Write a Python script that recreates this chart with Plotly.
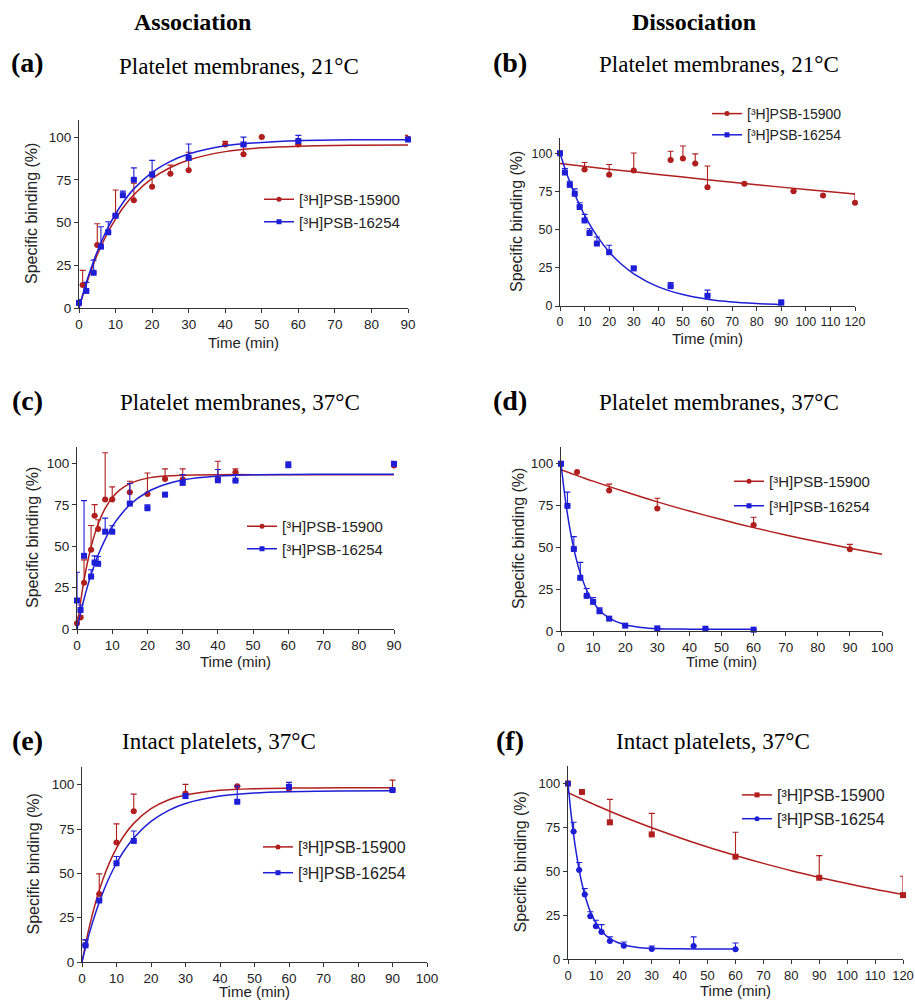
import plotly.graph_objects as go

# ---------------- data ----------------
# (a) Association, platelet membranes, 21 °C
a_red_t = [1, 5, 10, 15, 20, 25, 30, 40, 45, 50, 60, 90]
a_red_y = [13.5, 36.8, 54, 63, 71, 78.6, 80.6, 95.7, 90, 100, 95.7, 99]
a_red_e = [8.5, 12.5, 15, 10, 8.5, 5, 10.5, 1.8, 5, 0, 0, 2]
a_blue_t = [0, 2, 4, 6, 8, 10, 12, 15, 20, 30, 45, 60, 90]
a_blue_y = [3, 10, 20.6, 35.9, 44.3, 54, 66, 75, 78, 87.8, 95.7, 97.7, 98.6]
a_blue_e = [2, 5, 7.4, 11.6, 6.2, 1, 2.4, 7, 8.4, 8.2, 4.3, 3.3, 1]
a_fit_t = [0, 2, 4, 6, 8, 10, 12, 15, 20, 25, 30, 40, 50, 60, 75, 90]
a_fit_red = [0, 13.9, 25.9, 36.0, 44.7, 52.0, 58.5, 66.3, 75.8, 82.2, 86.6, 91.5, 93.7, 94.7, 95.2, 95.4]
a_fit_blue = [0, 14.9, 27.5, 38.2, 47.3, 55.0, 61.6, 69.7, 79.4, 85.8, 90.1, 94.9, 96.9, 97.9, 98.4, 98.5]

# (b) Dissociation, platelet membranes, 21 °C
b_red_t = [0, 10, 20, 30, 45, 50, 55, 60, 75, 95, 107, 120]
b_red_y = [100, 89.3, 86, 88.7, 95.6, 96.5, 93.3, 77.8, 80, 75.2, 72.4, 67.6]
b_red_e = [0, 4.7, 6.6, 11.5, 5.7, 8.3, 6.3, 13.9, 0, 0, 0, 5.9]
b_blue_t = [0, 2, 4, 6, 8, 10, 12, 15, 20, 30, 45, 60, 90]
b_blue_y = [100, 87.4, 79.3, 73.5, 64.8, 56, 47.8, 40.9, 35.2, 24.6, 13, 6.7, 2.2]
b_blue_e = [0, 2.6, 2.4, 3.2, 2.8, 4, 2.8, 4.3, 4.6, 1.4, 2.4, 3.7, 1.7]
b_fit_red_t = [0, 20, 40, 60, 80, 100, 120]
b_fit_red = [93.3, 89.6, 86.1, 82.7, 79.4, 76.3, 73.3]
b_fit_blue_t = [0, 2, 4, 6, 8, 10, 12, 15, 20, 25, 30, 40, 50, 60, 70, 80, 90]
b_fit_blue = [100, 90.1, 81.2, 73.2, 66.0, 59.5, 53.6, 45.9, 35.4, 27.3, 21.1, 12.5, 7.5, 4.4, 2.6, 1.6, 0.9]

# (c) Association, platelet membranes, 37 °C
c_red_t = [0, 1, 2, 4, 5, 6, 8, 10, 15, 20, 25, 30, 40, 45, 90]
c_red_y = [3.4, 6.9, 28, 47.9, 68.5, 60.4, 78.2, 78.2, 82.6, 81.6, 90.7, 90.3, 90.7, 94.7, 98.8]
c_red_e = [3, 1, 13.8, 14.7, 6.7, 5.6, 28.3, 7.7, 6.7, 12.7, 6.1, 6.5, 10.7, 2.1, 2.2]
c_blue_t = [0, 1, 2, 4, 5, 6, 8, 10, 15, 20, 25, 30, 40, 45, 60, 90]
c_blue_y = [17.2, 11.5, 44.2, 31.7, 40.2, 39.4, 58.8, 58.8, 75.8, 73, 81.2, 88.3, 89.9, 89.7, 99, 99.8]
c_blue_e = [17.1, 3, 33.4, 4.1, 4, 4.4, 8.2, 3.6, 12.1, 2, 0, 5, 6.5, 3.6, 2, 1.6]
c_fit_t = [0, 1, 2, 3, 4, 5, 6, 8, 10, 12, 15, 20, 25, 30, 40, 50, 60, 75, 90]
c_fit_red = [0, 16.1, 29.5, 40.5, 49.6, 57.2, 63.4, 72.9, 79.3, 83.8, 87.9, 91.2, 92.5, 93.0, 93.3, 93.3, 93.3, 93.3, 93.3]
c_fit_blue = [0, 9.6, 18.1, 25.9, 32.9, 39.0, 44.7, 54.2, 62.0, 67.9, 75.1, 82.8, 87.3, 90.0, 92.4, 93.2, 93.4, 93.5, 93.6]

# (d) Dissociation, platelet membranes, 37 °C
d_red_t = [0, 5, 15, 30, 60, 90]
d_red_y = [100, 95, 84, 73.2, 63.4, 48.8]
d_red_e = [0, 0, 3.8, 6.2, 4.6, 3]
d_blue_t = [0, 2, 4, 6, 8, 10, 12, 15, 20, 30, 45, 60]
d_blue_y = [100, 74.8, 49, 31.8, 21, 17.4, 11.8, 7.4, 3.2, 1.6, 1.4, 0.8]
d_blue_e = [0, 8.2, 7.4, 9.2, 4.4, 2.6, 2, 1, 0, 0, 0, 0]
d_fit_red_t = [0, 10, 20, 30, 40, 50, 60, 70, 80, 90, 100]
d_fit_red = [96.5, 89.6, 83.2, 77.2, 71.7, 66.6, 61.8, 57.4, 53.3, 49.5, 45.9]
d_fit_blue_t = [0, 1, 2, 3, 4, 5, 6, 8, 10, 12, 15, 20, 25, 30, 40, 50, 60]
d_fit_blue = [100, 83.7, 70.0, 58.6, 49.1, 41.2, 34.6, 24.4, 17.4, 12.4, 7.7, 3.7, 2.1, 1.4, 1.1, 1.0, 1.0]

# (e) Association, intact platelets, 37 °C
e_red_t = [1, 5, 10, 15, 30, 45, 60, 90]
e_red_y = [9.4, 38.3, 67.4, 85, 95.1, 99.2, 97.6, 97]
e_red_e = [3, 11.4, 10.5, 9.7, 5.1, 0, 1, 5.6]
e_blue_t = [1, 5, 10, 15, 30, 45, 60, 90]
e_blue_y = [9.4, 34.7, 55.7, 68.3, 93.6, 90.4, 98.8, 97]
e_blue_e = [3.2, 0, 3.8, 5.6, 0, 8.8, 2.5, 0]
e_fit_t = [0, 2, 4, 6, 8, 10, 12, 15, 20, 25, 30, 40, 50, 60, 75, 90]
e_fit_red = [0, 18.8, 34.0, 46.3, 56.2, 64.2, 70.8, 78.2, 86.5, 91.4, 94.2, 96.9, 97.8, 98.1, 98.3, 98.3]
e_fit_blue = [0, 15.3, 28.0, 38.9, 48.1, 55.7, 62.2, 70.0, 79.3, 85.4, 89.4, 93.6, 95.4, 96.1, 96.5, 96.6]

# (f) Dissociation, intact platelets, 37 °C
f_red_t = [0, 5, 15, 30, 60, 90, 120]
f_red_y = [100, 95.2, 77.9, 71, 58.3, 46.3, 36.4]
f_red_e = [0, 0, 13.1, 12, 13.9, 12.6, 10.8]
f_blue_t = [0, 2, 4, 6, 8, 10, 12, 15, 20, 30, 45, 60]
f_blue_y = [100, 72.6, 50.7, 36.8, 24.4, 18.7, 15.4, 10.3, 7.6, 5.7, 7.4, 5.5]
f_blue_e = [0, 5.3, 4.3, 3.4, 2.5, 3.4, 4.2, 2.3, 2.1, 1.7, 5.2, 3.6]
f_fit_red_t = [0, 10, 20, 30, 40, 50, 60, 70, 80, 90, 100, 110, 120]
f_fit_red = [94.8, 87.6, 80.9, 74.8, 69.1, 63.8, 59.0, 54.5, 50.3, 46.5, 43.0, 39.7, 36.7]
f_fit_blue_t = [0, 1, 2, 3, 4, 5, 6, 8, 10, 12, 15, 20, 25, 30, 40, 50, 60]
f_fit_blue = [100, 84.1, 70.9, 60.0, 50.7, 43.0, 36.6, 27.0, 20.5, 15.9, 11.6, 8.1, 6.6, 6.1, 5.8, 5.7, 5.7]

series_names = ["[³H]PSB-15900", "[³H]PSB-16254"]
y_ticks = [0, 25, 50, 75, 100]

# ---------------- styling ----------------
RED = "#B01E1E"
BLUE = "#1E1ED6"
SANS = "Liberation Sans, Arial, sans-serif"
SERIF = "Liberation Serif, Times New Roman, serif"
W, H = 915, 1000


def px_x(p):
    return p / W


def px_y(p):
    return 1 - p / H


# leg = (legend left px, legend top px, extra row gap, legend font size)
panels = [
    dict(key="a", xr=90, xd=(79, 408), yd=(120, 308), tf=13.5,
         red=(a_red_t, a_red_y, a_red_e), blue=(a_blue_t, a_blue_y, a_blue_e),
         fr=(a_fit_t, a_fit_red), fb=(a_fit_t, a_fit_blue),
         sym=("circle", "square"), leg=(259, 183, 0, 15)),
    dict(key="b", xr=120, xd=(560, 855), yd=(138, 306), tf=12.5,
         red=(b_red_t, b_red_y, b_red_e), blue=(b_blue_t, b_blue_y, b_blue_e),
         fr=(b_fit_red_t, b_fit_red), fb=(b_fit_blue_t, b_fit_blue),
         sym=("circle", "square"), leg=(707, 98, 0, 14)),
    dict(key="c", xr=90, xd=(77, 394), yd=(447, 629), tf=13.5,
         red=(c_red_t, c_red_y, c_red_e), blue=(c_blue_t, c_blue_y, c_blue_e),
         fr=(c_fit_t, c_fit_red), fb=(c_fit_t, c_fit_blue),
         sym=("circle", "square"), leg=(242, 510, 0, 15)),
    dict(key="d", xr=100, xd=(561, 882), yd=(447, 631), tf=13.5,
         red=(d_red_t, d_red_y, d_red_e), blue=(d_blue_t, d_blue_y, d_blue_e),
         fr=(d_fit_red_t, d_fit_red), fb=(d_fit_blue_t, d_fit_blue),
         sym=("circle", "square"), leg=(729, 465, 2, 15)),
    dict(key="e", xr=100, xd=(82, 427), yd=(767, 962), tf=13.5,
         red=(e_red_t, e_red_y, e_red_e), blue=(e_blue_t, e_blue_y, e_blue_e),
         fr=(e_fit_t, e_fit_red), fb=(e_fit_t, e_fit_blue),
         sym=("circle", "square"), leg=(258, 830, 2, 16)),
    dict(key="f", xr=120, xd=(568, 903), yd=(766, 959), tf=13,
         red=(f_red_t, f_red_y, f_red_e), blue=(f_blue_t, f_blue_y, f_blue_e),
         fr=(f_fit_red_t, f_fit_red), fb=(f_fit_blue_t, f_fit_blue),
         sym=("square", "circle"), leg=(737, 778, 0, 16)),
]

fig = go.Figure()
layout = dict(
    width=W, height=H,
    margin=dict(l=0, r=0, t=0, b=0, pad=0, autoexpand=False),
    paper_bgcolor="white", plot_bgcolor="white", showlegend=True,
)

for i, p in enumerate(panels):
    n = i + 1
    xa = "x" if n == 1 else f"x{n}"
    ya = "y" if n == 1 else f"y{n}"
    lg = "legend" if n == 1 else f"legend{n}"
    axis_common = dict(
        showline=True, linecolor="#333333", linewidth=1.2, ticks="outside",
        ticklen=4, tickwidth=1.1, tickcolor="#333333", showgrid=False,
        zeroline=False, tickfont=dict(family=SANS, size=p["tf"], color="#222222"),
        fixedrange=True, automargin=False, tickangle=0,
    )
    layout["xaxis" if n == 1 else f"xaxis{n}"] = dict(
        axis_common, domain=[px_x(p["xd"][0]), px_x(p["xd"][1])],
        range=[0, p["xr"]], dtick=10, tick0=0, anchor=ya,
    )
    layout["yaxis" if n == 1 else f"yaxis{n}"] = dict(
        axis_common, domain=[px_y(p["yd"][1]), px_y(p["yd"][0])],
        range=[0, 110], tickvals=y_ticks, anchor=xa,
    )
    lx, ly, gap, lfs = p["leg"]
    layout[lg] = dict(
        x=px_x(lx), y=px_y(ly), xanchor="left", yanchor="top",
        xref="paper", yref="paper", bgcolor="rgba(0,0,0,0)", borderwidth=0,
        font=dict(family=SANS, size=lfs, color="#222222"),
        tracegroupgap=gap, itemwidth=30,
    )
    for (pts, fit, col, sym, name) in [
        (p["red"], p["fr"], RED, p["sym"][0], series_names[0]),
        (p["blue"], p["fb"], BLUE, p["sym"][1], series_names[1]),
    ]:
        t, y, e = pts
        fig.add_trace(go.Scatter(
            x=fit[0], y=fit[1], mode="lines", xaxis=xa, yaxis=ya,
            line=dict(color=col, width=1.5, shape="spline", smoothing=0.8),
            showlegend=False, hoverinfo="skip",
        ))
        fig.add_trace(go.Scatter(
            x=t, y=y, mode="markers", xaxis=xa, yaxis=ya, cliponaxis=False,
            marker=dict(color=col, symbol=sym, size=6),
            error_y=dict(type="data", symmetric=False, array=e,
                         arrayminus=[0] * len(e), color=col, thickness=1.1, width=3),
            showlegend=False,
        ))
        # legend entry (line with marker)
        fig.add_trace(go.Scatter(
            x=[None], y=[None], mode="lines+markers", xaxis=xa, yaxis=ya,
            line=dict(color=col, width=1.5), marker=dict(color=col, symbol=sym, size=5),
            name=name, legend=lg, legendgroup=f"{p['key']}-{name}", showlegend=True,
        ))

annotations = []


def ann(text, x, y, size, family, bold=False, angle=0):
    annotations.append(dict(
        text=f"<b>{text}</b>" if bold else text, x=px_x(x), y=px_y(y),
        xref="paper", yref="paper", showarrow=False, xanchor="center",
        yanchor="middle", textangle=angle,
        font=dict(family=family, size=size, color="#000000"),
    ))


ann("Association", 192, 22, 24, SERIF, bold=True)
ann("Dissociation", 694, 22, 24, SERIF, bold=True)

labels = [("(a)", 27, 62), ("(b)", 510, 62), ("(c)", 27, 400),
          ("(d)", 510, 400), ("(e)", 27, 740), ("(f)", 510, 740)]
for txt, x, y in labels:
    ann(txt, x, y, 28, SERIF, bold=True)

titles = [("Platelet membranes, 21°C", 239, 66), ("Platelet membranes, 21°C", 719, 65),
          ("Platelet membranes, 37°C", 240, 402), ("Platelet membranes, 37°C", 719, 402),
          ("Intact platelets, 37°C", 219, 741), ("Intact platelets, 37°C", 713, 741)]
for txt, x, y in titles:
    ann(txt, x, y, 23, SERIF)

xt_y = [342, 338, 661, 661, 991, 990]
yt_x = [32, 517, 32, 518, 33, 520]
for p, ty, tx in zip(panels, xt_y, yt_x):
    cx = (p["xd"][0] + p["xd"][1]) / 2
    cy = (p["yd"][0] + p["yd"][1]) / 2
    annotations.append(dict(text="Time (min)", x=px_x(cx), y=px_y(ty), xref="paper",
                            yref="paper", showarrow=False, xanchor="center", yanchor="middle",
                            font=dict(family=SANS, size=15, color="#222222")))
    annotations.append(dict(text="Specific binding (%)", x=px_x(tx), y=px_y(cy), xref="paper",
                            yref="paper", showarrow=False, xanchor="center", yanchor="middle",
                            textangle=-90, font=dict(family=SANS, size=16, color="#222222")))

layout["annotations"] = annotations
fig.update_layout(**layout)
fig.write_html(
    "out.html",
    config={"displayModeBar": False},
    post_script="document.body.style.margin='0';document.body.style.overflow='hidden';",
)
